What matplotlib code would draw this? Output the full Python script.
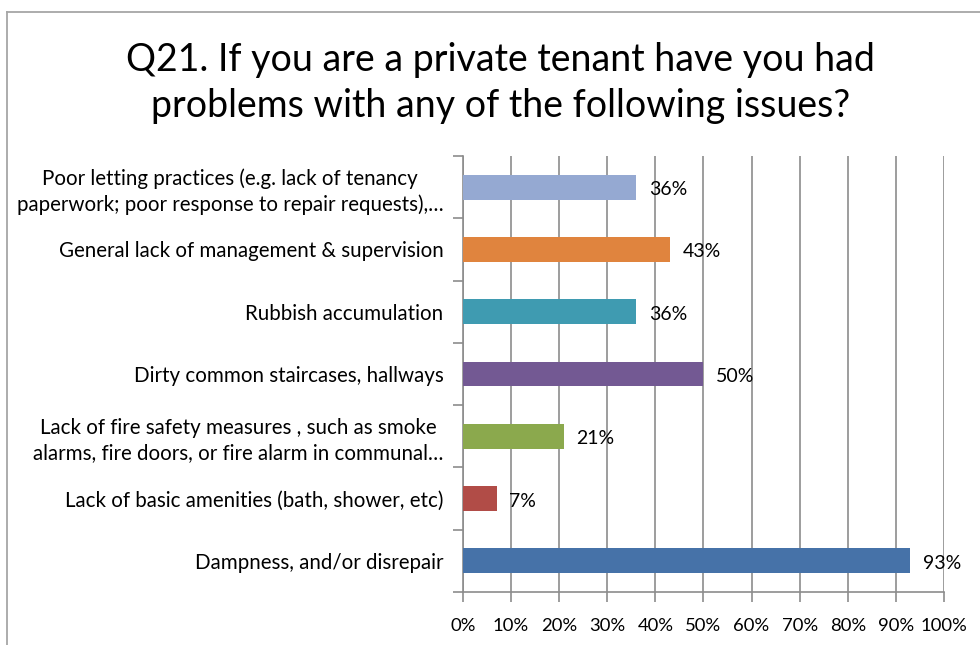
import matplotlib.pyplot as plt
import numpy as np
from matplotlib.lines import Line2D

plt.rcParams['font.family'] = ['Lato', 'DejaVu Sans']

# survey answers, top to bottom as shown
categories = [
    "Poor letting practices (e.g. lack of tenancy\npaperwork; poor response to repair requests),…",
    "General lack of management & supervision",
    "Rubbish accumulation",
    "Dirty common staircases, hallways",
    "Lack of fire safety measures , such as smoke\nalarms, fire doors, or fire alarm in communal…",
    "Lack of basic amenities (bath, shower, etc)",
    "Dampness, and/or disrepair",
]
percent = [36, 43, 36, 50, 21, 7, 93]
colors = ['#95A9D2', '#E0843E', '#3F9BB1', '#735993', '#8BA94D', '#B14C47', '#4672A8']
xticks = np.arange(0, 101, 10)

grid_col = '#8C8C8C'

fig = plt.figure(figsize=(9.8, 6.45), dpi=100)
ax = fig.add_axes([0.4724, 0.0822, 0.4909, 0.6759])

n = len(categories)
ypos = np.arange(n)[::-1]
ax.barh(ypos, percent, height=0.4, color=colors, zorder=3)

for y, v in zip(ypos, percent):
    ax.text(v + 2.6, y - 0.04, f"{v}%", va='center', ha='left', fontsize=14, zorder=4)

ax.set_xlim(0, 100)
ax.set_ylim(-0.5, n - 0.5)
ax.set_xticks(xticks)
ax.set_xticklabels([f"{t}%" for t in xticks], fontsize=13.3)
ax.xaxis.grid(True, color=grid_col, linewidth=1.2, zorder=0)

# category labels centred on bars, tick marks on the boundaries between them
ax.set_yticks(ypos)
ax.set_yticklabels(categories, fontsize=14.8, multialignment='center', linespacing=1.3)
ax.tick_params(axis='y', length=0, pad=14)
ax.set_yticks(np.arange(-0.5, n, 1), minor=True)
ax.tick_params(axis='y', which='minor', length=7, width=1.2, color=grid_col, direction='out')
ax.tick_params(axis='x', length=7, width=1.2, color=grid_col, direction='out', pad=12)

for side in ['top', 'right']:
    ax.spines[side].set_visible(False)
for side in ['left', 'bottom']:
    ax.spines[side].set_color(grid_col)
    ax.spines[side].set_linewidth(1.2)

fig.text(0.511, 0.935,
         "Q21. If you are a private tenant have you had\nproblems with any of the following issues?",
         ha='center', va='top', fontsize=27, linespacing=1.36)

# chart frame
fig.add_artist(Line2D([7 / 980, 7 / 980], [0, 1 - 12 / 645], transform=fig.transFigure,
                      color='#A6A6A6', linewidth=1.3))
fig.add_artist(Line2D([7 / 980, 1], [1 - 12 / 645, 1 - 12 / 645], transform=fig.transFigure,
                      color='#A6A6A6', linewidth=1.3))

fig.savefig('out.png', dpi=100)
